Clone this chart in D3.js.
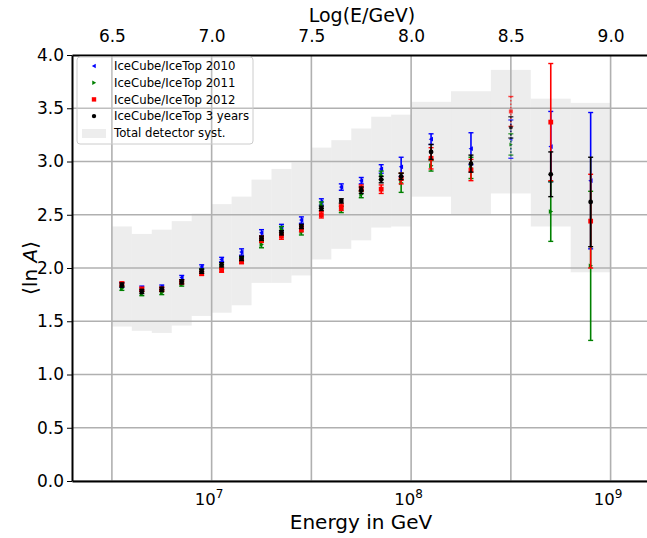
<!DOCTYPE html>
<html>
<head>
<meta charset="utf-8">
<script src="https://cdn.jsdelivr.net/npm/d3@7"></script>
<style>
  body { margin: 0; background: #fff; }
  svg { font-family: "DejaVu Sans", sans-serif; }
</style>
</head>
<body>
<svg id="chart" width="647" height="538"></svg>
<script>
// energy bins, log10(E/GeV)
var logE = [6.55, 6.65, 6.75, 6.85, 6.95, 7.05, 7.15, 7.25, 7.35, 7.45, 7.55, 7.65, 7.75, 7.85, 7.95, 8.1, 8.3, 8.5, 8.7, 8.9];
var dashedBins = [8.5];

// total detector systematics band
var systEdges = [6.5, 6.6, 6.7, 6.8, 6.9, 7.0, 7.1, 7.2, 7.3, 7.4, 7.5, 7.6, 7.7, 7.8, 7.9, 8.0, 8.2, 8.4, 8.6, 8.8, 9.0];
var systLow = [1.45, 1.41, 1.39, 1.46, 1.55, 1.58, 1.65, 1.86, 1.86, 1.93, 2.08, 2.18, 2.26, 2.38, 2.39, 2.67, 2.50, 2.70, 2.39, 1.96];
var systHigh = [2.39, 2.32, 2.36, 2.44, 2.51, 2.60, 2.67, 2.83, 2.93, 2.99, 3.13, 3.20, 3.31, 3.42, 3.44, 3.56, 3.66, 3.86, 3.59, 3.55];

// <lnA> per season
var lnA2010 = [1.84, 1.81, 1.82, 1.91, 2.01, 2.08, 2.15, 2.33, 2.38, 2.45, 2.62, 2.76, 2.82, 2.93, 2.95, 3.21, 3.12, 3.21, 3.14, 2.82];
var err2010 = [0.02, 0.02, 0.02, 0.02, 0.02, 0.02, 0.03, 0.03, 0.03, 0.03, 0.03, 0.03, 0.03, 0.04, 0.09, 0.05, 0.15, 0.18, 0.33, 0.64];
var lnA2011 = [1.81, 1.76, 1.77, 1.85, 1.97, 2.01, 2.08, 2.22, 2.36, 2.34, 2.59, 2.55, 2.69, 2.87, 2.80, 2.96, 2.94, 3.16, 2.53, 2.02];
var err2011 = [0.02, 0.02, 0.02, 0.02, 0.02, 0.02, 0.02, 0.03, 0.03, 0.03, 0.03, 0.03, 0.03, 0.04, 0.09, 0.05, 0.10, 0.10, 0.28, 0.70];
var lnA2012 = [1.85, 1.80, 1.80, 1.87, 1.95, 1.98, 2.06, 2.27, 2.30, 2.37, 2.50, 2.57, 2.75, 2.74, 2.84, 3.03, 2.92, 3.47, 3.37, 2.44];
var err2012 = [0.02, 0.02, 0.02, 0.02, 0.02, 0.02, 0.02, 0.03, 0.03, 0.03, 0.03, 0.03, 0.03, 0.04, 0.05, 0.10, 0.10, 0.14, 0.55, 0.44];
var lnA3yr = [1.84, 1.78, 1.80, 1.87, 1.97, 2.03, 2.09, 2.28, 2.33, 2.39, 2.56, 2.63, 2.73, 2.83, 2.86, 3.09, 2.98, 3.32, 2.88, 2.62];
var err3yr = [0.02, 0.02, 0.02, 0.02, 0.02, 0.02, 0.02, 0.02, 0.02, 0.02, 0.02, 0.02, 0.03, 0.03, 0.03, 0.07, 0.08, 0.10, 0.21, 0.42];

// axis ticks
var topTicks = [6.5, 7.0, 7.5, 8.0, 8.5, 9.0];
var bottomTicks = [7, 8, 9];
var yTicks = [0, 0.5, 1.0, 1.5, 2.0, 2.5, 3.0, 3.5, 4.0];

var series = [
  { name: 'IceCube/IceTop 2010', values: lnA2010, errors: err2010, color: 'blue', marker: 'left' },
  { name: 'IceCube/IceTop 2011', values: lnA2011, errors: err2011, color: 'green', marker: 'right' },
  { name: 'IceCube/IceTop 2012', values: lnA2012, errors: err2012, color: 'red', marker: 'square' },
  { name: 'IceCube/IceTop 3 years', values: lnA3yr, errors: err3yr, color: 'black', marker: 'circle' }
];

(function drawChart() {

  var svg = d3.select("#chart"),
    m = { left: 72, right: 650.5, top: 55, bottom: 481 };

  var x = d3.scaleLog().domain([Math.pow(10, 6.3), Math.pow(10, 9.2)]).range([m.left, m.right]),
    xTop = d3.scaleLinear().domain([6.3, 9.2]).range([m.left, m.right]),
    y = d3.scaleLinear().domain([0, 4]).range([m.bottom, m.top]);

  svg.append("clipPath").attr("id", "plot-clip")
    .append("rect")
    .attr("x", m.left).attr("y", m.top)
    .attr("width", m.right - m.left).attr("height", m.bottom - m.top);

  var plot = svg.append("g").attr("clip-path", "url(#plot-clip)");

  // systematics boxes
  plot.selectAll(".syst")
    .data(systLow)
    .enter().append("rect")
    .attr("class", "syst")
    .attr("x", function (d, i) { return xTop(systEdges[i]); })
    .attr("width", function (d, i) { return xTop(systEdges[i + 1]) - xTop(systEdges[i]); })
    .attr("y", function (d, i) { return y(systHigh[i]); })
    .attr("height", function (d, i) { return y(d) - y(systHigh[i]); })
    .attr("fill", "#d3d3d3")
    .attr("fill-opacity", 0.42);

  // grid
  plot.selectAll(".vgrid")
    .data(topTicks)
    .enter().append("line")
    .attr("x1", function (d) { return xTop(d); })
    .attr("x2", function (d) { return xTop(d); })
    .attr("y1", m.top).attr("y2", m.bottom)
    .attr("stroke", "#b0b0b0").attr("stroke-width", 1.6);

  plot.selectAll(".hgrid")
    .data(yTicks)
    .enter().append("line")
    .attr("x1", m.left).attr("x2", m.right)
    .attr("y1", function (d) { return y(d); })
    .attr("y2", function (d) { return y(d); })
    .attr("stroke", "#b0b0b0").attr("stroke-width", 1.6);

  // marker shapes
  function markerPath(type, s) {
    if (type === 'left') return "M" + (-s) + ",0L" + (s * 0.8) + "," + (-s) + "L" + (s * 0.8) + "," + s + "Z";
    if (type === 'right') return "M" + s + ",0L" + (-s * 0.8) + "," + (-s) + "L" + (-s * 0.8) + "," + s + "Z";
    if (type === 'square') return "M" + (-s) + "," + (-s) + "h" + (2 * s) + "v" + (2 * s) + "h" + (-2 * s) + "Z";
    return d3.symbol().type(d3.symbolCircle).size(Math.PI * s * s)();
  }

  var capHalf = 2.5;

  series.forEach(function (s) {
    var g = plot.append("g").attr("class", "series");
    var pts = s.values.map(function (v, i) {
      return { e: logE[i], v: v, err: s.errors[i], dashed: dashedBins.indexOf(logE[i]) >= 0 };
    });

    // error bars
    g.selectAll(".err")
      .data(pts)
      .enter().append("line")
      .attr("x1", function (d) { return x(Math.pow(10, d.e)); })
      .attr("x2", function (d) { return x(Math.pow(10, d.e)); })
      .attr("y1", function (d) { return y(d.v + d.err); })
      .attr("y2", function (d) { return y(d.v - d.err); })
      .attr("stroke", s.color)
      .attr("stroke-width", function (d) { return d.dashed ? 1.2 : 1.6; })
      .attr("stroke-opacity", function (d) { return d.dashed ? 0.75 : 1; })
      .attr("stroke-dasharray", function (d) { return d.dashed ? "1.5,2" : null; });

    // caps
    [1, -1].forEach(function (sign) {
      g.selectAll(".cap" + sign)
        .data(pts)
        .enter().append("line")
        .attr("x1", function (d) { return x(Math.pow(10, d.e)) - capHalf; })
        .attr("x2", function (d) { return x(Math.pow(10, d.e)) + capHalf; })
        .attr("y1", function (d) { return y(d.v + sign * d.err); })
        .attr("y2", function (d) { return y(d.v + sign * d.err); })
        .attr("stroke", s.color)
        .attr("stroke-opacity", function (d) { return d.dashed ? 0.75 : 1; })
        .attr("stroke-width", 1.4);
    });

    g.selectAll(".marker")
      .data(pts)
      .enter().append("path")
      .attr("transform", function (d) { return "translate(" + x(Math.pow(10, d.e)) + "," + y(d.v) + ")"; })
      .attr("d", function (d) { return markerPath(s.marker, d.dashed ? 2 : 2.4); })
      .attr("fill", s.color)
      .attr("fill-opacity", function (d) { return d.dashed ? 0.7 : 1; });
  });

  // axes
  var leftAxis = svg.append("g")
    .attr("transform", "translate(" + m.left + ",0)")
    .call(d3.axisLeft(y).tickValues(yTicks).tickFormat(d3.format(".1f")).tickSize(5).tickSizeOuter(0).tickPadding(3));

  var topAxis = svg.append("g")
    .attr("transform", "translate(0," + m.top + ")")
    .call(d3.axisTop(xTop).tickValues(topTicks).tickFormat(d3.format(".1f")).tickSize(0).tickSizeOuter(0).tickPadding(13));

  var bottomAxis = svg.append("g")
    .attr("transform", "translate(0," + m.bottom + ")")
    .call(d3.axisBottom(x).tickValues(bottomTicks.map(function (p) { return Math.pow(10, p); }))
      .tickFormat("").tickSize(0).tickSizeOuter(0));

  bottomAxis.selectAll(".tick").each(function (d) {
    var t = d3.select(this).append("text")
      .attr("fill", "#000")
      .attr("x", -3)
      .attr("y", 24)
      .attr("text-anchor", "middle")
      .attr("font-family", "DejaVu Sans")
      .attr("font-size", 16.5);
    t.append("tspan").text("10");
    t.append("tspan").attr("dy", -7).attr("font-size", 12).text(Math.round(Math.log10(d)));
  });

  [leftAxis, topAxis, bottomAxis].forEach(function (a) {
    a.select(".domain").attr("stroke", "#000").attr("stroke-width", 2);
    a.selectAll(".tick line").attr("stroke", "#000").attr("stroke-width", 1);
  });
  leftAxis.selectAll(".tick text").attr("font-size", 17).attr("font-family", "DejaVu Sans");
  topAxis.selectAll(".tick text").attr("font-size", 17).attr("font-family", "DejaVu Sans");

  // right spine (mostly off canvas)
  svg.append("line")
    .attr("x1", m.right).attr("x2", m.right).attr("y1", m.top).attr("y2", m.bottom)
    .attr("stroke", "#000").attr("stroke-width", 2);

  // axis titles
  svg.append("text")
    .attr("x", 362)
    .attr("y", 22)
    .attr("text-anchor", "middle")
    .attr("font-size", 19)
    .text("Log(E/GeV)");

  svg.append("text")
    .attr("x", 361)
    .attr("y", 529)
    .attr("text-anchor", "middle")
    .attr("font-size", 20)
    .text("Energy in GeV");

  var ylab = svg.append("text")
    .attr("transform", "translate(37,268) rotate(-90)")
    .attr("text-anchor", "middle")
    .attr("font-size", 20);
  ylab.append("tspan").text("\u27E8ln ");
  ylab.append("tspan").attr("font-style", "italic").text("A");
  ylab.append("tspan").text("\u27E9");

  // legend
  var legend = svg.append("g").attr("class", "legend");
  legend.append("rect")
    .attr("x", 77).attr("y", 57)
    .attr("width", 176).attr("height", 87)
    .attr("rx", 3)
    .attr("fill", "#fff").attr("fill-opacity", 0.2)
    .attr("stroke", "#cccccc").attr("stroke-width", 1);

  var rowH = 16.7;
  series.forEach(function (s, i) {
    var ry = 66 + i * rowH;
    legend.append("path")
      .attr("transform", "translate(94," + ry + ")")
      .attr("d", markerPath(s.marker, 2.2))
      .attr("fill", s.color);
    legend.append("text")
      .attr("x", 114).attr("y", ry + 4.3)
      .attr("font-size", 11.7)
      .text(s.name);
  });
  legend.append("rect")
    .attr("x", 82).attr("y", 129)
    .attr("width", 24).attr("height", 9)
    .attr("fill", "#d3d3d3").attr("fill-opacity", 0.42);
  legend.append("text")
    .attr("x", 114).attr("y", 66 + 4 * rowH + 4.3)
    .attr("font-size", 11.7)
    .text("Total detector syst.");

})();
</script>
</body>
</html>
